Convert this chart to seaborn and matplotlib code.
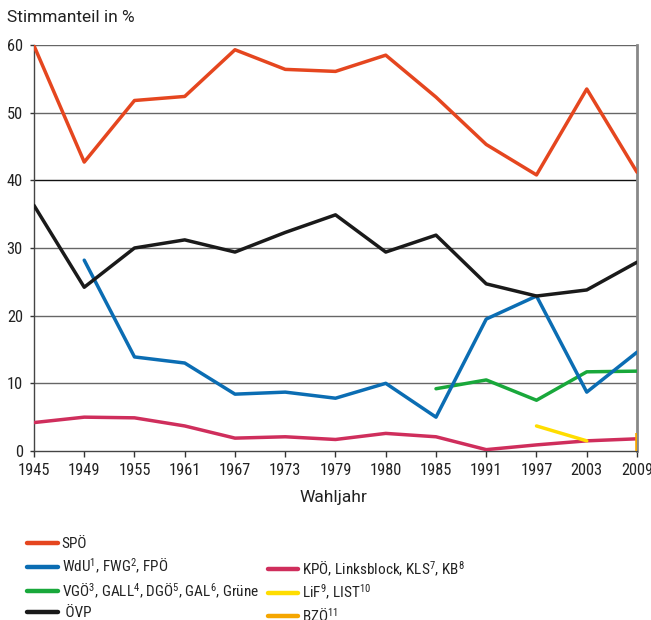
import numpy as np
import pandas as pd
import matplotlib
matplotlib.use("Agg")
import matplotlib.pyplot as plt
from matplotlib.lines import Line2D
import seaborn as sns

years = ["1945", "1949", "1955", "1961", "1967", "1973", "1979", "1980",
         "1985", "1991", "1997", "2003", "2009"]

spoe = [59.9, 42.7, 51.8, 52.4, 59.3, 56.4, 56.1, 58.5, 52.3, 45.3, 40.8, 53.5, 41.2]
oevp = [36.3, 24.2, 30.0, 31.2, 29.4, 32.3, 34.9, 29.4, 31.9, 24.7, 22.9, 23.8, 27.9]
fpoe = [np.nan, 28.2, 13.9, 13.0, 8.4, 8.7, 7.8, 10.0, 5.0, 19.5, 22.9, 8.7, 14.6]
gruene = [np.nan] * 8 + [9.2, 10.5, 7.5, 11.7, 11.8]
kpoe = [4.2, 5.0, 4.9, 3.7, 1.9, 2.1, 1.7, 2.6, 2.1, 0.2, 0.9, 1.5, 1.8]
lif = [np.nan] * 10 + [3.7, 1.5, np.nan]
bzoe = [np.nan] * 12 + [2.6]

labels = {
    "spoe": "SPÖ",
    "fpoe": "WdU$^{1}$, FWG$^{2}$, FPÖ",
    "gruene": "VGÖ$^{3}$, GALL$^{4}$, DGÖ$^{5}$, GAL$^{6}$, Grüne",
    "oevp": " ÖVP",
    "kpoe": "KPÖ, Linksblock, KLS$^{7}$, KB$^{8}$",
    "lif": "LiF$^{9}$, LIST$^{10}$",
    "bzoe": "BZÖ$^{11}$",
}
colors = {
    "spoe": "#E5461F",
    "fpoe": "#0B6DB3",
    "gruene": "#19A83B",
    "oevp": "#1A1A1A",
    "kpoe": "#CF2E5C",
    "lif": "#FFDD00",
    "bzoe": "#F5A600",
}

series = {"spoe": spoe, "fpoe": fpoe, "gruene": gruene, "oevp": oevp,
          "kpoe": kpoe, "lif": lif, "bzoe": bzoe}
rows = []
for key, vals in series.items():
    for i, v in enumerate(vals):
        rows.append({"pos": i, "party": key, "value": v})
df = pd.DataFrame(rows).dropna()

sns.set_style("white")
cond = ["Roboto Condensed", "DejaVu Sans"]
plt.rcParams["font.family"] = cond
plt.rcParams["mathtext.fontset"] = "custom"
plt.rcParams["mathtext.rm"] = "Roboto Condensed"
plt.rcParams["mathtext.it"] = "Roboto Condensed"
plt.rcParams["mathtext.default"] = "regular"

fig = plt.figure(figsize=(6.51, 6.20), dpi=100)
ax = fig.add_axes([0.0522, 0.2726, 0.9263, 0.6548])

for y in range(10, 61, 10):
    ax.axhline(y, color="#666666" if y != 40 else "#111111", lw=1.0, zorder=1)

draw_order = ["kpoe", "lif", "gruene", "fpoe", "oevp", "spoe"]
for key in draw_order:
    sub = df[df.party == key]
    sns.lineplot(data=sub, x="pos", y="value", color=colors[key], lw=2.5,
                 ax=ax, zorder=3, legend=False)

# BZÖ only one election: drawn as a short stroke at the last position
bz = df[df.party == "bzoe"]
ax.vlines(bz["pos"], 0, bz["value"], color=colors["bzoe"], lw=2.6, zorder=4)

ax.set_xlim(0, len(years) - 1)
ax.set_ylim(0, 60)
ax.set_xticks(range(len(years)))
ax.set_xticklabels(years)
ax.set_yticks(range(0, 61, 10))
ax.tick_params(axis="both", labelsize=11.8, colors="#333333", labelcolor="#222222",
               width=1, direction="out")
ax.tick_params(axis="x", bottom=True, length=4, pad=5)
ax.tick_params(axis="y", left=True, length=3, pad=5)
for side in ["left", "bottom"]:
    ax.spines[side].set_color("#444444")
    ax.spines[side].set_linewidth(1.0)
ax.spines["right"].set_color("#888888")
ax.spines["right"].set_linewidth(2.0)
ax.spines["top"].set_visible(False)
ax.set_xlabel("")
ax.set_ylabel("")

label_font = ["Roboto", "DejaVu Sans"]
fig.text(0.011, 0.972, "Stimmanteil in %", fontsize=12.5, family=label_font,
         ha="left", va="center", color="#222222")
fig.text(0.512, 0.197, "Wahljahr", fontsize=12.5, family=label_font,
         ha="center", va="center", color="#222222")


def make_legend(keys, x, y, spacing):
    handles = [Line2D([], [], color=colors[k], lw=3.2) for k in keys]
    texts = [labels[k] for k in keys]
    leg = fig.legend(handles, texts, loc="upper left", bbox_to_anchor=(x, y),
                     frameon=False, fontsize=11, handlelength=2.0,
                     handletextpad=0.25, labelspacing=spacing, borderaxespad=0,
                     borderpad=0)
    for t in leg.get_texts():
        t.set_color("#222222")
    return leg


make_legend(["spoe", "fpoe", "gruene", "oevp"], 0.042, 0.134, 0.37)
make_legend(["kpoe", "lif", "bzoe"], 0.411, 0.098, 0.28)

fig.savefig("out.png", dpi=100)
